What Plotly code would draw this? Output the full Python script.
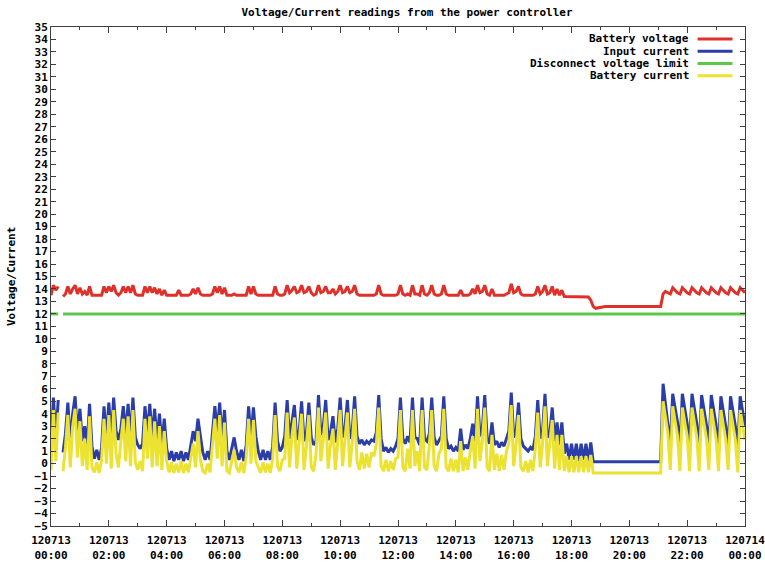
import pandas as pd
import plotly.graph_objects as go

# Samples every 5 minutes across 2012-07-13 (289 samples, 00:00 .. 24:00).
# One row per hour; None marks a missing sample.
battery_voltage = [
    13.5, 14.3, 13.9, 14.2, None, 13.4, 13.6, 14.2, 13.6, 14.0, 14.3, 13.6,
    14.1, 13.6, 13.8, 13.5, 14.2, 13.5, 13.5, 13.5, 13.5, 13.5, 14.2, 13.7,
    14.2, 13.8, 14.3, 13.7, 13.5, 13.7, 14.2, 13.7, 14.2, 13.7, 14.3, 13.6,
    13.5, 13.5, 13.5, 14.2, 13.7, 14.2, 13.7, 14.1, 13.6, 14.0, 13.5, 13.9,
    13.5, 13.5, 13.5, 13.5, 13.5, 13.9, 13.5, 13.5, 13.5, 13.5, 13.6, 14.0,
    13.6, 14.1, 13.6, 13.5, 13.5, 13.5, 13.5, 13.6, 14.2, 13.7, 14.2, 13.6,
    14.1, 13.5, 13.5, 13.5, 13.6, 13.5, 13.5, 13.5, 13.5, 13.5, 14.2, 13.6,
    14.2, 13.6, 13.5, 13.5, 13.5, 13.5, 13.5, 13.5, 13.5, 14.2, 13.6, 13.5,
    13.5, 13.6, 14.3, 13.7, 13.9, 14.2, 13.7, 13.8, 14.3, 13.7, 13.8, 14.2,
    13.7, 13.5, 13.6, 14.3, 13.7, 13.8, 14.2, 13.7, 13.7, 14.0, 13.6, 13.8,
    14.3, 13.7, 13.8, 14.2, 13.7, 13.8, 14.3, 13.6, 13.5, 13.5, 13.5, 13.5,
    13.5, 13.5, 13.5, 13.6, 14.3, 13.6, 13.5, 13.5, 13.5, 13.5, 13.5, 13.5,
    13.6, 14.3, 13.6, 13.5, 13.6, 13.5, 14.3, 13.6, 13.6, 13.5, 14.3, 13.6,
    13.5, 13.7, 14.3, 13.6, 13.5, 13.5, 13.6, 14.3, 13.6, 13.5, 13.5, 13.5,
    13.5, 13.5, 13.9, 13.5, 13.5, 13.5, 13.6, 14.0, 13.6, 14.3, 13.7, 13.8,
    14.3, 13.6, 13.5, 14.0, 13.5, 13.5, 13.5, 13.5, 13.5, 13.6, 13.7, 14.4,
    13.7, 13.8, 14.2, 13.6, 13.5, 13.5, 13.5, 13.5, 13.5, 13.6, 14.2, 13.6,
    13.8, 14.3, 13.6, 13.7, 14.2, 13.5, 14.0, 13.5, 13.9, 13.4, 13.4, 13.4,
    13.4, 13.4, 13.4, 13.4, 13.4, 13.4, 13.4, 13.35, 13.1, 12.6, 12.45, 12.5,
    12.55, 12.6, 12.6, 12.6, 12.6, 12.6, 12.6, 12.6, 12.6, 12.6, 12.6, 12.6,
    12.6, 12.6, 12.6, 12.6, 12.6, 12.6, 12.6, 12.6, 12.6, 12.6, 12.6, 12.6,
    12.6, 12.6, 13.6, 13.8, 13.7, 13.6, 14.1, 13.9, 13.7, 13.6, 14.1, 13.9,
    13.7, 13.6, 14.1, 13.9, 13.7, 13.6, 14.1, 13.9, 13.7, 13.6, 14.1, 13.9,
    13.7, 13.6, 14.1, 13.9, 13.7, 13.6, 14.1, 13.9, 13.7, 13.6, 14.1, 13.9,
    13.7,
]

input_current = [
    1.0, 5.3, 2.0, 5.1, None, 0.9, 2.4, 4.9, 1.6, 4.0, 5.4, 2.2,
    4.4, 1.8, 3.0, 1.5, 4.8, 1.4, 0.4, 1.1, 0.3, 1.3, 4.6, 2.0,
    4.9, 1.9, 5.3, 2.6, 1.9, 2.8, 4.6, 2.3, 4.8, 2.0, 5.3, 2.1,
    1.5, 1.2, 1.6, 4.6, 2.4, 4.8, 2.0, 4.4, 1.8, 4.0, 1.5, 3.6,
    1.2, 0.3, 1.0, 0.2, 0.9, 0.3, 1.0, 0.2, 0.9, 0.3, 1.5, 2.6,
    1.8, 3.6, 2.2, 0.9, 0.3, 1.0, 0.3, 2.4, 4.6, 2.5, 4.9, 2.0,
    4.3, 1.0, 0.3, 1.2, 2.1, 1.0, 0.3, 1.1, 0.2, 1.5, 4.6, 2.0,
    4.5, 2.2, 1.0, 0.3, 1.1, 0.3, 1.0, 0.3, 1.4, 4.9, 1.8, 1.0,
    1.3, 2.2, 5.1, 2.0, 3.2, 4.7, 1.9, 2.6, 5.0, 1.8, 2.4, 4.9,
    2.1, 1.5, 1.8, 5.5, 2.3, 3.0, 5.1, 1.9, 2.5, 3.8, 1.7, 2.8,
    5.3, 2.1, 2.9, 5.1, 2.0, 2.6, 5.4, 2.2, 1.6, 1.9, 1.5, 1.8,
    1.6, 1.9, 1.8, 2.5, 5.5, 2.0, 1.0, 1.3, 0.9, 1.2, 1.0, 1.4,
    2.0, 5.3, 2.0, 1.6, 2.2, 1.7, 5.3, 2.1, 2.0, 1.5, 5.3, 2.0,
    1.8, 2.4, 5.3, 2.1, 1.5, 1.8, 2.2, 5.4, 2.0, 1.2, 1.4, 1.0,
    1.3, 1.0, 2.8, 1.1, 1.5, 1.2, 2.0, 3.2, 1.8, 5.4, 2.2, 2.8,
    5.5, 2.0, 1.6, 3.3, 1.5, 1.8, 1.3, 1.7, 1.4, 2.0, 2.6, 5.7,
    2.1, 2.5, 4.9, 2.0, 1.4, 1.2, 1.0, 1.3, 1.1, 2.2, 5.1, 2.0,
    2.6, 5.6, 2.1, 2.4, 4.5, 1.8, 3.3, 1.5, 3.3, 0.8, 1.6, 0.3,
    1.6, 0.3, 1.6, 0.2, 1.6, 0.3, 1.6, 0.2, 1.7, 0.15, 0.15, 0.15,
    0.15, 0.15, 0.15, 0.15, 0.15, 0.15, 0.15, 0.15, 0.15, 0.15, 0.15, 0.15,
    0.15, 0.15, 0.15, 0.15, 0.15, 0.15, 0.15, 0.15, 0.15, 0.15, 0.15, 0.15,
    0.15, 0.15, 6.4, 4.8, 3.6, 1.5, 5.6, 4.5, 3.3, 1.2, 5.6, 4.4,
    3.2, 1.2, 5.6, 4.4, 3.2, 1.1, 5.5, 4.3, 3.1, 1.2, 5.5, 4.3,
    3.1, 1.1, 5.4, 4.2, 3.0, 1.2, 5.4, 4.2, 3.0, 1.0, 5.4, 4.2,
    3.0,
]

battery_current = [
    -0.5, 4.3, 0.2, 4.1, None, -0.6, 1.3, 3.9, -0.3, 3.0, 4.4, 0.5,
    3.4, -0.2, 2.0, -0.5, 3.8, -0.3, -0.7, 0.1, -0.75, 0.3, 3.6, 0.0,
    3.9, -0.4, 4.3, 0.8, -0.3, 1.8, 3.6, 0.2, 3.8, -0.2, 4.3, 0.1,
    -0.5, 0.2, -0.6, 3.6, 0.4, 3.8, -0.3, 3.4, -0.2, 3.0, -0.5, 2.6,
    0.2, -0.7, 0.1, -0.75, 0.0, -0.7, 0.2, -0.75, 0.0, -0.7, 0.5, 1.6,
    -0.3, 2.6, 0.3, -0.6, -0.75, 0.0, -0.7, 1.4, 3.6, 0.4, 3.9, -0.2,
    3.3, -0.6, -0.75, 0.2, 1.1, -0.3, -0.7, 0.1, -0.75, 0.5, 3.6, 0.0,
    3.5, 0.2, -0.3, -0.75, 0.1, -0.7, 0.0, -0.75, 0.4, 3.9, -0.2, -0.6,
    0.3, 0.4, 4.1, -0.3, 2.2, 3.7, -0.4, 1.6, 4.0, -0.5, 1.4, 3.9,
    -0.3, -0.6, 0.8, 4.5, 0.2, 2.0, 4.1, -0.4, 1.5, 2.8, -0.5, 1.8,
    4.3, -0.2, 1.9, 4.1, -0.3, 1.6, 4.4, 0.2, -0.5, 0.9, -0.4, 0.8,
    -0.3, 0.9, 0.6, 1.5, 4.5, -0.2, -0.6, 0.3, -0.6, 0.2, -0.5, 0.4,
    0.5, 4.3, -0.3, -0.6, 1.2, -0.4, 4.3, -0.2, 1.0, -0.6, 4.3, -0.3,
    -0.5, 1.4, 4.3, -0.2, -0.6, 0.8, 1.2, 4.4, -0.3, -0.6, 0.4, -0.6,
    0.3, -0.7, 1.8, -0.6, 0.5, -0.5, 1.0, 2.2, -0.4, 4.4, 0.2, 1.8,
    4.5, -0.3, -0.6, 2.3, -0.5, 0.8, -0.6, 0.7, -0.5, 1.0, 1.6, 4.7,
    -0.2, 1.5, 3.9, -0.3, -0.6, 0.2, -0.7, 0.3, -0.6, 1.2, 4.1, -0.3,
    1.6, 4.6, -0.2, 1.4, 3.5, -0.4, 2.3, -0.5, 2.3, -0.6, 0.6, -0.7,
    0.6, -0.7, 0.6, -0.7, 0.6, -0.7, 0.6, -0.7, 0.7, -0.75, -0.75, -0.75,
    -0.75, -0.75, -0.75, -0.75, -0.75, -0.75, -0.75, -0.75, -0.75, -0.75, -0.75, -0.75,
    -0.75, -0.75, -0.75, -0.75, -0.75, -0.75, -0.75, -0.75, -0.75, -0.75, -0.75, -0.75,
    -0.75, -0.75, 5.0, 3.6, 2.4, -0.5, 4.6, 3.4, 2.2, -0.6, 4.5, 3.3,
    2.2, -0.6, 4.5, 3.3, 2.1, -0.6, 4.4, 3.2, 2.0, -0.5, 4.4, 3.2,
    2.0, -0.6, 4.3, 3.1, 1.9, -0.5, 4.3, 3.1, 1.9, -0.7, 4.3, 3.1,
    1.9,
]

DISCONNECT_LIMIT = 12.0
GAP_INDEX = 4  # the one missing sample (00:20)

times = pd.date_range("2012-07-13 00:00", periods=len(input_current), freq="5min")
disconnect_limit = [None if i == GAP_INDEX else DISCONNECT_LIMIT for i in range(len(times))]

series_names = ["Battery voltage", "Input current", "Disconnect voltage limit", "Battery current"]
series_colors = ["#e0302a", "#2b3ea8", "#5cc84a", "#ebe232"]
series_values = [battery_voltage, input_current, disconnect_limit, battery_current]

FONT = "DejaVu Sans Mono"
AXIS_COLOR = "#404040"

fig = go.Figure()
for name, color, values in zip(series_names, series_colors, series_values):
    fig.add_trace(go.Scatter(
        x=times, y=values, mode="lines", name=name,
        line=dict(color=color, width=3), connectgaps=False,
        showlegend=False,
    ))

# Key in the upper right: right-aligned label followed by a line sample.
W, H = 765, 564
L, R, T, B = 50.5, 745.5, 27.0, 526.5
pw, ph = R - L, B - T
def px(x):
    return (x - L) / pw
def py(y):
    return (B - y) / ph

key_rows = [39.0, 51.2, 63.5, 75.8]
annotations = []
shapes = []
for name, color, yrow in zip(series_names, series_colors, key_rows):
    annotations.append(dict(
        x=px(691.5), y=py(yrow), xref="paper", yref="paper",
        text=name, showarrow=False, xanchor="right", yanchor="middle",
        font=dict(family=FONT, size=11, color="black", weight="bold"),
    ))
    shapes.append(dict(
        type="line", xref="paper", yref="paper",
        x0=px(698), x1=px(733), y0=py(yrow), y1=py(yrow),
        line=dict(color=color, width=3),
    ))

annotations.append(dict(
    x=px(11), y=0.5, xref="paper", yref="paper", text="Voltage/Current",
    textangle=-90, showarrow=False, xanchor="center", yanchor="middle",
    font=dict(family=FONT, size=11, color="black", weight="bold"),
))

fig.update_layout(
    width=W, height=H,
    margin=dict(l=L, r=W - R, t=T, b=H - B, pad=0),
    paper_bgcolor="white", plot_bgcolor="white",
    title=dict(
        text="Voltage/Current readings from the power controller",
        x=407 / W, xref="container", xanchor="center",
        y=1 - 12 / H, yref="container", yanchor="middle",
        font=dict(family=FONT, size=11, color="black", weight="bold"),
    ),
    annotations=annotations, shapes=shapes,
    showlegend=False,
)

fig.update_xaxes(
    type="date",
    range=["2012-07-13 00:00", "2012-07-14 00:00"],
    tick0="2012-07-13 00:00", dtick=2 * 3600 * 1000,
    tickformat="%y%m%d<br>%H:%M",
    ticks="inside", ticklen=6, tickwidth=1, tickcolor=AXIS_COLOR,
    minor=dict(dtick=3600 * 1000, ticks="inside", ticklen=3, tickcolor=AXIS_COLOR, showgrid=False),
    showline=True, linecolor=AXIS_COLOR, linewidth=1, mirror="allticks",
    showgrid=False, zeroline=False, automargin=False,
    ticklabeloverflow="allow", ticklabelstandoff=4,
    tickfont=dict(family=FONT, size=11, color="black", weight="bold"),
)
fig.update_yaxes(
    range=[-5, 35], tick0=-5, dtick=1,
    ticks="inside", ticklen=5, tickwidth=1, tickcolor=AXIS_COLOR,
    showline=True, linecolor=AXIS_COLOR, linewidth=1, mirror="allticks",
    showgrid=False, zeroline=False, automargin=False,
    tickfont=dict(family=FONT, size=11, color="black", weight="bold"),
)

fig.write_html("out.html")
